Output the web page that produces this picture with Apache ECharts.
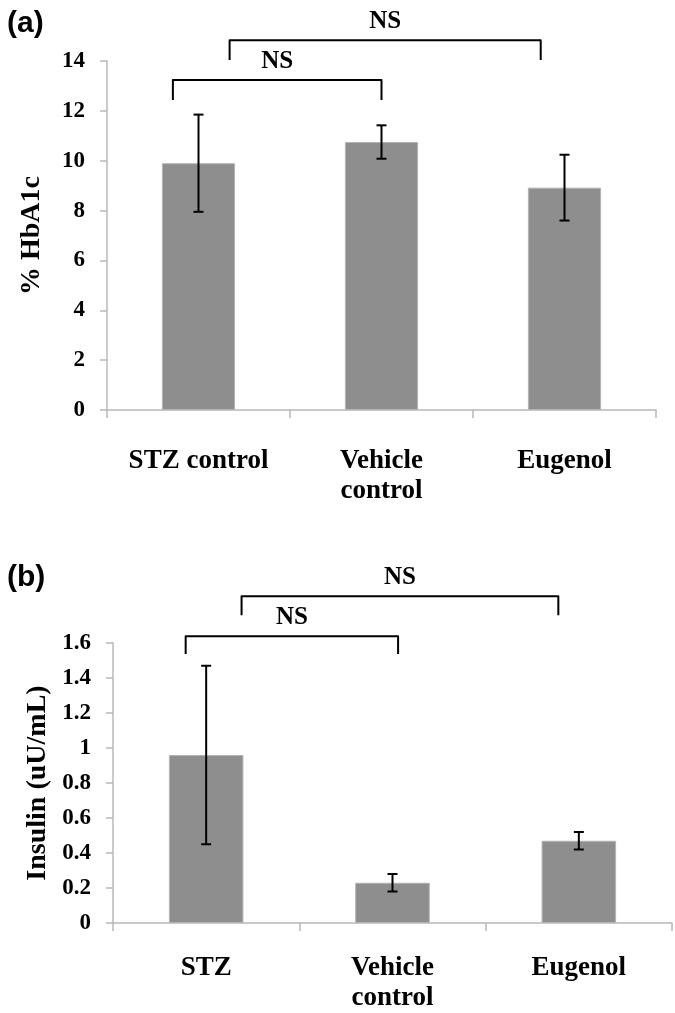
<!DOCTYPE html>
<html>
<head>
<meta charset="utf-8">
<script src="https://cdn.jsdelivr.net/npm/echarts@6/dist/echarts.min.js"></script>
<style>
html,body{margin:0;padding:0;background:#fff;}
#c{width:675px;height:1013px;}
</style>
</head>
<body>
<div id="c"></div>
<script>
// ---- data ----
const catsA = ['STZ control', 'Vehicle\ncontrol', 'Eugenol'];
const hba1cMean = [9.9, 10.75, 8.92];
const hba1cErr = [1.95, 0.67, 1.32];
const catsB = ['STZ', 'Vehicle\ncontrol', 'Eugenol'];
const insulinMean = [0.96, 0.23, 0.47];
const insulinErr = [0.51, 0.05, 0.05];
// brackets: [fromPos, toPos, topValue, legEndValue]
const bracketsA = [[-0.14, 1.0, 13.24, 12.44], [0.17, 1.87, 14.83, 14.04]];
const bracketsB = [[-0.11, 1.03, 1.639, 1.537], [0.19, 1.89, 1.867, 1.759]];
const bracketLabelsA = ['NS', 'NS'];
const bracketLabelsB = ['NS', 'NS'];

const serif = 'Liberation Serif, Times New Roman, serif';
const axisGray = '#b8b8b8';

function catAxis(grid, cats, margin) {
  return {
    type: 'category', gridIndex: grid, data: cats,
    axisLine: {onZero: false, lineStyle: {color: axisGray, width: 1.5}},
    axisTick: {show: true, length: 8, lineStyle: {color: axisGray, width: 1.5}},
    axisLabel: {interval: 0, margin: margin, color: '#000', fontFamily: serif, fontWeight: 'bold', fontSize: 27, lineHeight: 30}
  };
}
function hiddenX(grid) {
  return {type: 'value', gridIndex: grid, min: -0.5, max: 2.5, show: false,
    axisLine: {onZero: false}};
}
function valAxis(grid, max, interval, name) {
  return {
    type: 'value', gridIndex: grid, min: 0, max: max, interval: interval,
    name: name, nameLocation: 'middle', nameGap: 61, nameRotate: 90,
    nameTextStyle: {color: '#000', fontFamily: serif, fontWeight: 'bold', fontSize: 28},
    splitLine: {show: false},
    axisLine: {show: true, onZero: false, lineStyle: {color: axisGray, width: 1.5}},
    axisTick: {show: true, length: 7, lineStyle: {color: axisGray, width: 1.5}},
    axisLabel: {margin: 22, color: '#000', fontFamily: serif, fontWeight: 'bold', fontSize: 23}
  };
}
function errSeries(xi, yi, means, errs) {
  return {
    type: 'custom', xAxisIndex: xi, yAxisIndex: yi, clip: false, z: 5,
    data: means.map((m, i) => [i, m, errs[i]]),
    encode: {x: 0, y: 1},
    renderItem: function (params, api) {
      const x = api.value(0), m = api.value(1), e = api.value(2);
      const top = api.coord([x, m + e]);
      const bot = api.coord([x, m - e]);
      const cx = top[0], hw = 5;
      const st = {stroke: '#000', lineWidth: 2};
      return {type: 'group', children: [
        {type: 'line', shape: {x1: cx, y1: top[1], x2: cx, y2: bot[1]}, style: st},
        {type: 'line', shape: {x1: cx - hw, y1: top[1], x2: cx + hw, y2: top[1]}, style: st},
        {type: 'line', shape: {x1: cx - hw, y1: bot[1], x2: cx + hw, y2: bot[1]}, style: st}
      ]};
    }
  };
}
function bracketSeries(xi, yi, brackets, labels) {
  return {
    type: 'custom', xAxisIndex: xi, yAxisIndex: yi, clip: false, z: 5,
    data: brackets,
    encode: {x: [0, 1], y: [2, 3]},
    renderItem: function (params, api) {
      const a = api.value(0), b = api.value(1), t = api.value(2), l = api.value(3);
      const p1 = api.coord([a, l]), p2 = api.coord([a, t]), p3 = api.coord([b, t]), p4 = api.coord([b, l]);
      return {type: 'group', children: [
        {type: 'polyline', shape: {points: [p1, p2, p3, p4]},
          style: {stroke: '#000', lineWidth: 2, fill: null, lineJoin: 'round'}},
        {type: 'text', x: (p2[0] + p3[0]) / 2, y: p2[1] - 6,
          style: {text: labels[params.dataIndex], fill: '#000', font: 'bold 25px ' + serif,
            align: 'center', verticalAlign: 'bottom'}}
      ]};
    }
  };
}
const barStyle = {color: '#8e8e8e', borderColor: '#b3b3b3', borderWidth: 1};

const option = {
  animation: false,
  backgroundColor: '#fff',
  title: [
    {text: '(a)', left: 2, top: 4, textStyle: {fontFamily: 'Liberation Sans, Arial, sans-serif', fontWeight: 'bold', fontSize: 30, color: '#000'}},
    {text: '(b)', left: 2, top: 558, textStyle: {fontFamily: 'Liberation Sans, Arial, sans-serif', fontWeight: 'bold', fontSize: 30, color: '#000'}}
  ],
  grid: [
    {left: 107, top: 61, width: 549, height: 349},
    {left: 113, top: 643, width: 559, height: 281}
  ],
  xAxis: [catAxis(0, catsA, 36), catAxis(1, catsB, 30), hiddenX(0), hiddenX(1)],
  yAxis: [valAxis(0, 14, 2, '% HbA1c'), valAxis(1, 1.6, 0.2, 'Insulin (uU/mL)')],
  series: [
    {type: 'bar', xAxisIndex: 0, yAxisIndex: 0, data: hba1cMean, barWidth: '40%', itemStyle: barStyle},
    {type: 'bar', xAxisIndex: 1, yAxisIndex: 1, data: insulinMean, barWidth: '40%', itemStyle: barStyle},
    errSeries(0, 0, hba1cMean, hba1cErr),
    errSeries(1, 1, insulinMean, insulinErr),
    bracketSeries(2, 0, bracketsA, bracketLabelsA),
    bracketSeries(3, 1, bracketsB, bracketLabelsB)
  ]
};
const chart = echarts.init(document.getElementById('c'), null, {renderer: 'canvas'});
chart.setOption(option);
</script>
</body>
</html>
